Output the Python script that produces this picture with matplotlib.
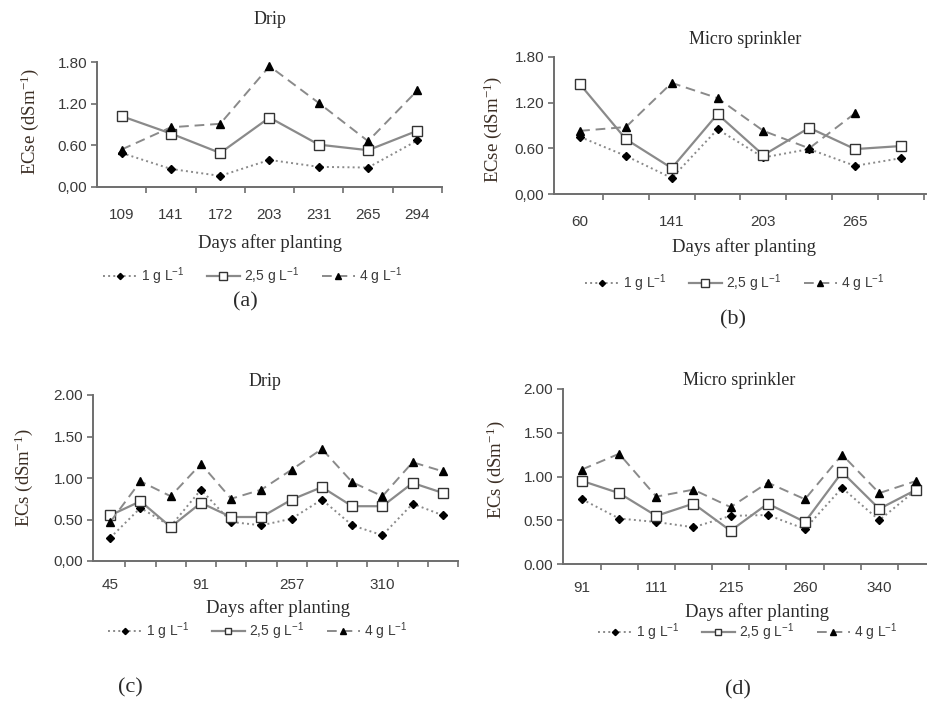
import numpy as np
import matplotlib
matplotlib.use('Agg')
import matplotlib.pyplot as plt

# Data (values in dS m-1)
a_days = ['109', '141', '172', '203', '231', '265', '294']
a_1g = [0.49, 0.26, 0.16, 0.39, 0.29, 0.28, 0.67]
a_25g = [1.02, 0.77, 0.49, 1.00, 0.61, 0.53, 0.81]
a_4g = [0.54, 0.86, 0.91, 1.74, 1.21, 0.66, 1.39]

b_days = ['60', '', '141', '', '203', '', '265', '']
b_1g = [0.75, 0.50, 0.21, 0.85, 0.48, 0.59, 0.37, 0.47]
b_25g = [1.44, 0.72, 0.34, 1.05, 0.51, 0.87, 0.59, 0.63]
b_4g = [0.83, 0.88, 1.46, 1.26, 0.83, 0.60, 1.06, np.nan]

c_days = ['45', '', '', '91', '', '', '257', '', '', '310', '', '']
c_1g = [0.28, 0.64, 0.42, 0.86, 0.47, 0.43, 0.51, 0.74, 0.43, 0.31, 0.69, 0.55]
c_25g = [0.55, 0.72, 0.41, 0.70, 0.53, 0.53, 0.74, 0.89, 0.66, 0.66, 0.94, 0.82]
c_4g = [0.47, 0.96, 0.78, 1.17, 0.75, 0.86, 1.10, 1.35, 0.95, 0.78, 1.19, 1.08]

d_days = ['91', '', '111', '', '215', '', '260', '', '340', '']
d_1g = [0.74, 0.52, 0.48, 0.42, 0.55, 0.56, 0.40, 0.87, 0.50, 0.85]
d_25g = [0.95, 0.81, 0.55, 0.69, 0.38, 0.69, 0.48, 1.05, 0.63, 0.85]
d_4g = [1.08, 1.26, 0.77, 0.85, 0.65, 0.93, 0.74, 1.25, 0.81, 0.95]

series_labels = [r'1 g L$\mathregular{^{-1}}$', r'2,5 g L$\mathregular{^{-1}}$',
                 r'4 g L$\mathregular{^{-1}}$']

W, H = 928, 709
SERIF = 'Liberation Serif'
SANS = 'Liberation Sans'
LINE = '#8a8a8a'
AXC = '#6e6e6e'
TXT = '#2a2a2a'

fig = plt.figure(figsize=(W / 100, H / 100), dpi=100)


def px(x, y):
    # pixel position (from top left) to figure fraction
    return x / W, 1 - y / H


def make_panel(rect, days, s1, s2, s3, yticks, ylabels, xlim, title, tpos,
               ylabel, ypos, xlpos, legpos, letter, lpos, xpad=13, sq=7):
    l, r, top, bot = rect
    ax = fig.add_axes([l / W, 1 - bot / H, (r - l) / W, (bot - top) / H])
    x = np.arange(len(days))
    ax.plot(x, s1, color=LINE, ls=':', lw=1.4, marker='D', ms=4.2,
            mfc='black', mec='black', label=series_labels[0])
    ax.plot(x, s2, color=LINE, ls='-', lw=1.6, marker='s', ms=sq,
            mfc='white', mec='#333333', mew=1.0, label=series_labels[1])
    ax.plot(x, s3, color=LINE, ls=(0, (5, 3)), lw=1.4, marker='^', ms=5.5,
            mfc='black', mec='black', label=series_labels[2])

    ax.set_xlim(*xlim)
    ax.set_ylim(yticks[0], yticks[-1])
    ax.set_xticks(x)
    ax.set_xticklabels(days, family=SANS, fontsize=11, color='#3a3a3a')
    ax.set_xticks(np.arange(len(days)) + 0.5, minor=True)
    ax.tick_params(axis='x', which='major', length=0, pad=xpad)
    ax.tick_params(axis='x', which='minor', length=4, width=1.2, color=AXC, direction='out')
    ax.set_yticks(yticks)
    ax.set_yticklabels(ylabels, family=SANS, fontsize=11, color='#3a3a3a')
    ax.tick_params(axis='y', length=4, width=1.2, color=AXC, direction='out', pad=3)
    for side in ['top', 'right']:
        ax.spines[side].set_visible(False)
    for side in ['left', 'bottom']:
        ax.spines[side].set_color(AXC)
        ax.spines[side].set_linewidth(1.4)
    ax.set_facecolor('none')

    fig.text(*px(*tpos), title, family=SERIF, fontsize=13, color=TXT,
             ha='center', va='center')
    fig.text(*px(*ypos), ylabel, family=SERIF, fontsize=13.5, color='#3b2e24',
             ha='center', va='center', rotation=90)
    fig.text(*px(*xlpos), 'Days after planting', family=SERIF, fontsize=13.5,
             color=TXT, ha='center', va='center')
    leg = ax.legend(loc='center', bbox_to_anchor=px(*legpos), bbox_transform=fig.transFigure,
                    ncol=3, frameon=False, prop={'family': SANS, 'size': 10},
                    handlelength=2.4, columnspacing=1.6, handletextpad=0.3, markerscale=0.75)
    for t in leg.get_texts():
        t.set_color('#3a3a3a')
    fig.text(*px(*lpos), letter, family=SERIF, fontsize=16, color=TXT,
             ha='center', va='center')
    return ax


# (a) Drip, ECse
make_panel((97, 442, 62, 187), a_days, a_1g, a_25g, a_4g,
           [0, 0.6, 1.2, 1.8], ['0,00', '0.60', '1.20', '1.80'], (-0.5, 6.5),
           'Drip', (270, 19), r'ECse (dSm$\mathregular{^{-1}}$)', (30, 122), (270, 243),
           (253, 276), '(a)', (245, 302), xpad=15)

# (b) Micro sprinkler, ECse
make_panel((554, 926, 57, 194), b_days, b_1g, b_25g, b_4g,
           [0, 0.6, 1.2, 1.8], ['0,00', '0.60', '1.20', '1.80'], (-0.57, 7.55),
           'Micro sprinkler', (745, 40), r'ECse (dSm$\mathregular{^{-1}}$)', (493, 130), (744, 247),
           (735, 283), '(b)', (733, 320), xpad=15)

# (c) Drip, ECs
make_panel((93, 458, 395, 561), c_days, c_1g, c_25g, c_4g,
           [0, 0.5, 1.0, 1.5, 2.0], ['0,00', '0.50', '1.00', '1.50', '2.00'], (-0.57, 11.5),
           'Drip', (265, 381), r'ECs (dSm$\mathregular{^{-1}}$)', (24, 478), (278, 608),
           (258, 631), '(c)', (130, 688), xpad=12, sq=6.5)

# (d) Micro sprinkler, ECs
make_panel((563, 935, 389, 564), d_days, d_1g, d_25g, d_4g,
           [0, 0.5, 1.0, 1.5, 2.0], ['0.00', '0.50', '1.00', '1.50', '2.00'], (-0.51, 9.5),
           'Micro sprinkler', (739, 380), r'ECs (dSm$\mathregular{^{-1}}$)', (496, 470), (757, 612),
           (748, 632), '(d)', (738, 690), xpad=12, sq=6.5)

fig.savefig('out.png', dpi=100)
